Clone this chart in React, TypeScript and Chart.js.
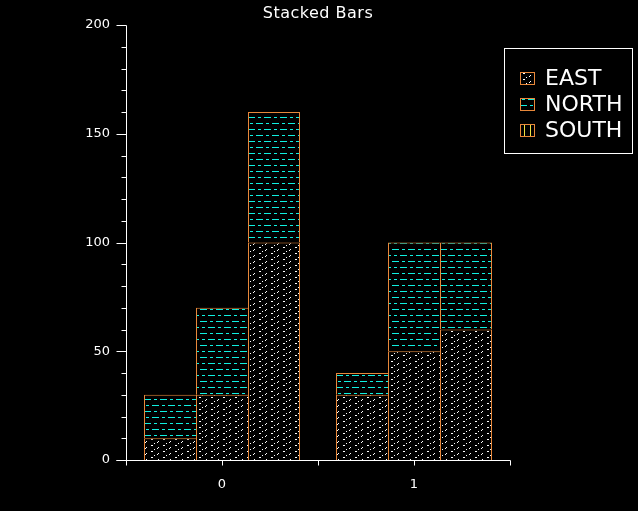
import React, { useEffect, useRef } from 'react';
import { Chart, registerables } from 'chart.js';

Chart.register(...registerables);

const titleText = 'Stacked Bars';
const categories = ['0', '1'];
const seriesNames = ['EAST', 'NORTH', 'SOUTH'];
// values per category, for each of the three side-by-side stacked bars
const eastValues = [[10, 30, 100], [30, 50, 60]];
const northValues = [[20, 40, 60], [10, 50, 40]];
const southValues = [[0, 0, 0], [0, 0, 0]];
const barSlots = ['A', 'B', 'C'];
const yMin = 0;
const yMax = 200;
const yMajorStep = 50;
const yMinorStep = 10;

const ORANGE = '#e8883a';
const WHITE = '#ffffff';
const CYAN = '#10f0e0';
const YELLOW = '#f0e040';
const FONT = 'DejaVu Sans';

function makePattern(kind: string): CanvasPattern | string {
  const c = document.createElement('canvas');
  const ctx = c.getContext('2d');
  if (!ctx) return '#000';
  if (kind === 'EAST') {
    c.width = 12; c.height = 6;
    ctx.fillStyle = '#000'; ctx.fillRect(0, 0, 12, 6);
    ctx.fillStyle = WHITE;
    ctx.fillRect(1, 4, 1, 1); ctx.fillRect(2, 3, 1, 1);
    ctx.fillRect(7, 1, 1, 1); ctx.fillRect(8, 1, 1, 1);
    ctx.fillRect(10, 5, 1, 1);
  } else if (kind === 'NORTH') {
    c.width = 16; c.height = 12;
    ctx.fillStyle = '#000'; ctx.fillRect(0, 0, 16, 12);
    ctx.fillStyle = CYAN;
    ctx.fillRect(0, 3, 7, 1); ctx.fillRect(10, 3, 3, 1);
    ctx.fillRect(8, 9, 7, 1); ctx.fillRect(2, 9, 3, 1);
  } else {
    c.width = 6; c.height = 6;
    ctx.fillStyle = '#000'; ctx.fillRect(0, 0, 6, 6);
    ctx.fillStyle = YELLOW;
    ctx.fillRect(2, 0, 1, 6);
  }
  const p = ctx.createPattern(c, 'repeat');
  return p || '#000';
}

export default function App() {
  const ref = useRef<HTMLCanvasElement | null>(null);

  useEffect(() => {
    const canvas = ref.current;
    if (!canvas) return;
    const patterns: Record<string, CanvasPattern | string> = {
      EAST: makePattern('EAST'),
      NORTH: makePattern('NORTH'),
      SOUTH: makePattern('SOUTH'),
    };
    const seriesValues: Record<string, number[][]> = {
      EAST: eastValues,
      NORTH: northValues,
      SOUTH: southValues,
    };

    const datasets: any[] = [];
    barSlots.forEach((slot, p) => {
      seriesNames.forEach((name) => {
        datasets.push({
          label: name,
          stack: slot,
          data: categories.map((_, ci) => seriesValues[name][ci][p]),
          backgroundColor: patterns[name],
          borderColor: ORANGE,
          borderWidth: p === barSlots.length - 1
            ? { top: 1, left: 1, right: 1, bottom: 0 }
            : { top: 1, left: 1, right: 0, bottom: 0 },
          borderSkipped: 'start',
          inflateAmount: 0,
          categoryPercentage: 156 / 192,
          barPercentage: 1.0,
        });
      });
    });

    const decor = {
      id: 'decor',
      beforeDraw(chart: any) {
        const { ctx, width, height } = chart;
        ctx.save();
        ctx.fillStyle = '#000';
        ctx.fillRect(0, 0, width, height);
        ctx.restore();
      },
      afterDraw(chart: any) {
        const { ctx, chartArea } = chart;
        const xs = chart.scales.x;
        const ys = chart.scales.y;
        ctx.save();
        ctx.strokeStyle = WHITE;
        ctx.lineWidth = 1;
        const ax = Math.round(chartArea.left) + 0.5;
        const ay = Math.round(ys.getPixelForValue(yMin)) + 0.5;
        const topY = Math.round(ys.getPixelForValue(yMax)) + 0.5;
        ctx.beginPath();
        // y axis
        ctx.moveTo(ax, topY); ctx.lineTo(ax, ay);
        for (let v = yMin; v <= yMax; v += yMinorStep) {
          const y = Math.round(ys.getPixelForValue(v)) + 0.5;
          const len = v % yMajorStep === 0 ? 10 : 5;
          ctx.moveTo(ax - len, y); ctx.lineTo(ax, y);
        }
        // x axis
        ctx.moveTo(ax - 10, ay); ctx.lineTo(Math.round(chartArea.right) + 0.5, ay);
        const xt: number[] = [chartArea.left, chartArea.right];
        for (let i = 0; i < categories.length; i++) {
          xt.push(xs.getPixelForTick(i));
          if (i > 0) xt.push((xs.getPixelForTick(i) + xs.getPixelForTick(i - 1)) / 2);
        }
        xt.forEach((x) => {
          const px = Math.round(x) + 0.5;
          ctx.moveTo(px, ay); ctx.lineTo(px, ay + 5);
        });
        ctx.stroke();

        // title
        ctx.fillStyle = WHITE;
        ctx.font = `16px "${FONT}"`;
        try { (ctx as any).letterSpacing = '0.5px'; } catch (e) { /* ignore */ }
        ctx.textAlign = 'center';
        ctx.textBaseline = 'middle';
        ctx.fillText(titleText, 318, 14);
        try { (ctx as any).letterSpacing = '0px'; } catch (e) { /* ignore */ }

        // legend box
        ctx.strokeRect(504.5, 48.5, 128, 105);
        ctx.font = `22px "${FONT}"`;
        ctx.textAlign = 'left';
        seriesNames.forEach((name, i) => {
          const cy = 78 + i * 26;
          ctx.fillStyle = patterns[name];
          ctx.fillRect(520, cy - 6, 15, 13);
          ctx.strokeStyle = ORANGE;
          ctx.strokeRect(520.5, cy - 5.5, 14, 12);
          ctx.fillStyle = WHITE;
          ctx.fillText(name, 545, cy + 1);
        });
        ctx.restore();
      },
    };

    const chart = new Chart(canvas, {
      type: 'bar',
      data: { labels: categories, datasets },
      plugins: [decor],
      options: {
        animation: false,
        responsive: false,
        maintainAspectRatio: false,
        layout: { padding: { top: 25, right: 128, left: 0, bottom: 0 } },
        plugins: {
          legend: { display: false },
          title: { display: false },
          tooltip: { enabled: false },
        },
        scales: {
          x: {
            type: 'category',
            stacked: true,
            offset: true,
            grid: { display: false, drawTicks: false },
            border: { display: false },
            ticks: { color: WHITE, font: { family: FONT, size: 13 }, padding: 17 },
            afterFit: (s: any) => { s.height = 51; },
          },
          y: {
            stacked: true,
            min: yMin,
            max: yMax,
            grid: { display: false, drawTicks: false },
            border: { display: false },
            ticks: { stepSize: yMajorStep, color: WHITE, font: { family: FONT, size: 13 }, padding: 16 },
            afterFit: (s: any) => { s.width = 126; },
          },
        },
      } as any,
    });
    return () => chart.destroy();
  }, []);

  return (
    <div style={{ position: 'absolute', left: 0, top: 0, width: 638, height: 511, background: '#000' }}>
      <canvas ref={ref} width={638} height={511} style={{ display: 'block', width: 638, height: 511 }} />
    </div>
  );
}
